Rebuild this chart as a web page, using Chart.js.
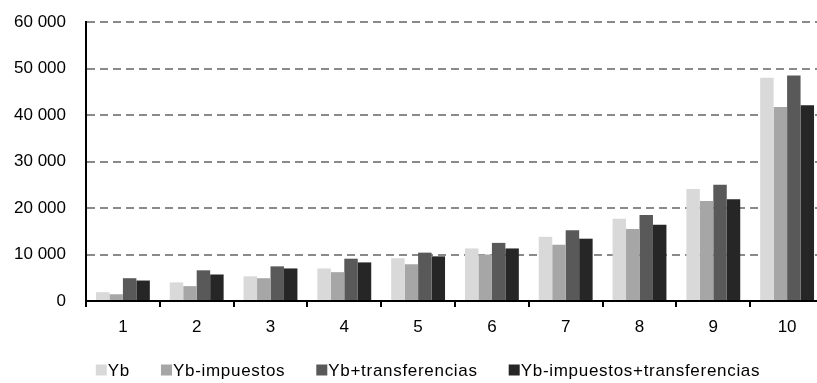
<!DOCTYPE html>
<html>
<head>
<meta charset="utf-8">
<script src="https://cdn.jsdelivr.net/npm/chart.js@4/dist/chart.umd.min.js"></script>
<style>
  html, body { margin: 0; padding: 0; background: #fff; overflow: hidden; }
  #wrap { position: relative; width: 824px; height: 383px; }
</style>
</head>
<body>
<div id="wrap"><canvas id="chart"></canvas></div>
<script>
// Deciles of household income
const categories = ['1', '2', '3', '4', '5', '6', '7', '8', '9', '10'];

// Income per decile under each definition
const yb               = [1900, 4000, 5300, 7000, 9200, 11300, 13800, 17700, 24100, 48000];
const ybImpuestos      = [1450, 3200, 4900, 6200, 7900, 10000, 12100, 15500, 21500, 41700];
const ybTransferencias = [4900, 6600, 7450, 9100, 10400, 12500, 15200, 18500, 25000, 48500];
const ybImpTransf      = [4400, 5700, 7000, 8300, 9600, 11300, 13400, 16400, 21900, 42100];

const seriesNames = ['Yb', 'Yb-impuestos', 'Yb+transferencias', 'Yb-impuestos+transferencias'];
const seriesColors = ['#d9d9d9', '#a6a6a6', '#595959', '#262626'];

// Value axis
const yMin = 0;
const yMax = 60000;
const yStep = 10000;

const FONT = "'Liberation Sans', Arial, sans-serif";

function thousands(v) {
  return String(v).replace(/\B(?=(\d{3})+(?!\d))/g, ' ');
}

// Legend drawn as a single centred row under the axis
const rowLegend = {
  id: 'rowLegend',
  afterDraw(chart, args, opts) {
    const ctx = chart.ctx;
    ctx.save();
    ctx.font = opts.size + 'px ' + FONT;
    if ('letterSpacing' in ctx) ctx.letterSpacing = opts.tracking + 'px';
    ctx.textBaseline = 'middle';
    const items = chart.data.datasets.map(ds => ({
      label: ds.label,
      color: ds.backgroundColor,
      w: ctx.measureText(ds.label).width
    }));
    const total = items.reduce((s, it) => s + opts.box + opts.gap + it.w, 0) + opts.spacing * (items.length - 1);
    let x = opts.center - total / 2;
    items.forEach(it => {
      ctx.fillStyle = it.color;
      ctx.fillRect(x, opts.y - opts.box / 2, opts.box, opts.box);
      x += opts.box + opts.gap;
      ctx.fillStyle = '#000';
      ctx.fillText(it.label, x, opts.y + 1);
      x += it.w + opts.spacing;
    });
    ctx.restore();
  }
};

const seriesValues = [yb, ybImpuestos, ybTransferencias, ybImpTransf];

new Chart(document.getElementById('chart'), {
  type: 'bar',
  data: {
    labels: categories,
    datasets: seriesValues.map((vals, i) => ({
      label: seriesNames[i],
      data: vals,
      backgroundColor: seriesColors[i],
      borderWidth: 0,
      barPercentage: 1,
      categoryPercentage: 0.73
    }))
  },
  options: {
    responsive: true,
    maintainAspectRatio: false,
    animation: false,
    layout: { padding: { top: 22, right: 0, bottom: 42, left: 0 } },
    plugins: {
      legend: { display: false },
      tooltip: { enabled: false },
      rowLegend: { center: 428, y: 370, box: 11, gap: 1, spacing: 31, size: 17, tracking: 0.7 }
    },
    scales: {
      x: {
        grid: {
          offset: true,
          drawOnChartArea: false,
          drawTicks: true,
          tickLength: 6,
          color: '#000',
          lineWidth: 2
        },
        border: { display: true, color: '#000', width: 2 },
        ticks: { color: '#000', padding: 10, font: { family: FONT, size: 17 } },
        afterFit(scale) { scale.height = 40; }
      },
      y: {
        min: yMin,
        max: yMax,
        ticks: {
          stepSize: yStep,
          color: '#000',
          padding: 20,
          font: { family: FONT, size: 17 },
          callback: v => thousands(v)
        },
        grid: {
          drawTicks: false,
          lineWidth: 2,
          color: c => (c.tick && c.tick.value === 0 ? 'rgba(0,0,0,0)' : '#8a8a8a')
        },
        border: { display: true, color: '#000', width: 2, dash: [8, 5] },
        afterFit(scale) {
          scale.width = 86;
          scale.paddingTop = 0;
          scale.paddingBottom = 0;
        }
      }
    }
  },
  plugins: [rowLegend]
});
</script>
</body>
</html>
